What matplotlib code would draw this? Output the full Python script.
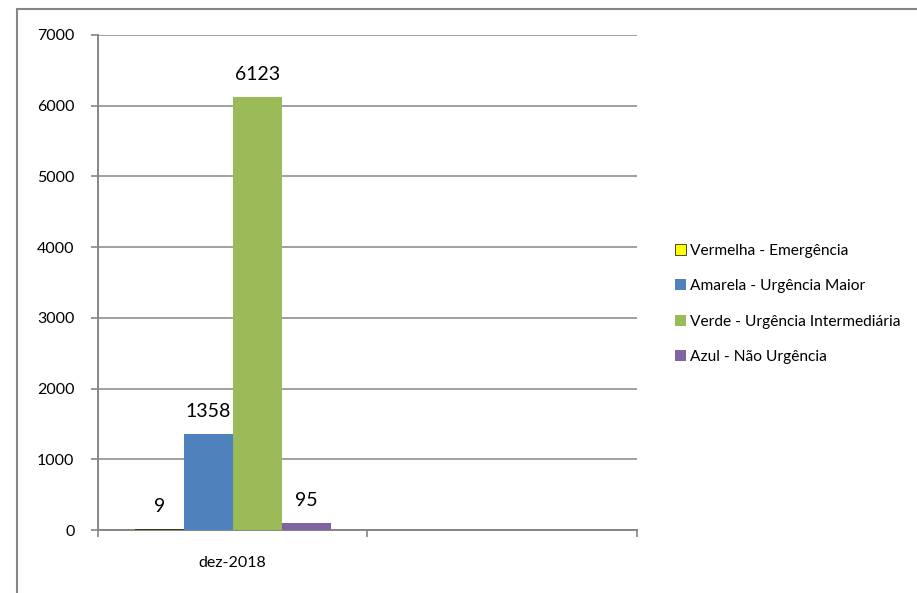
import matplotlib.pyplot as plt
from matplotlib.patches import Rectangle
import numpy as np

CATEGORIES = ["dez-2018", ""]
SERIES = [
    "Vermelha - Emergência",
    "Amarela - Urgência Maior",
    "Verde - Urgência Intermediária",
    "Azul - Não Urgência",
]
VALUES = [9, 1358, 6123, 95]
COLORS = ["#FFFF00", "#4F81BD", "#9BBB59", "#8064A2"]
EDGES = ["#000000", "none", "none", "none"]

plt.rcParams["font.family"] = ["Lato", "DejaVu Sans"]
GRID = "#868686"


def main():
    fig = plt.figure(figsize=(9.17, 5.93), dpi=100)
    W, H = 917, 593
    ax = fig.add_axes([98 / W, 1 - 530 / H, (637 - 98) / W, (530 - 35) / H])

    # outer chart frame
    fig.patches.append(Rectangle((17 / W, -0.1), 1.2, 1 + 0.1 - 9 / H,
                                 transform=fig.transFigure, fill=False,
                                 edgecolor=GRID, linewidth=1.5))

    width = 0.182
    offsets = (np.arange(len(SERIES)) - 1.5) * width
    for i, name in enumerate(SERIES):
        ax.bar(offsets[i], VALUES[i], width=width, color=COLORS[i],
               edgecolor=EDGES[i], linewidth=0.5 if EDGES[i] != "none" else 0,
               label=name, zorder=3)
        ax.annotate(str(VALUES[i]), (offsets[i], VALUES[i]),
                    xytext=(0, 16.5), textcoords="offset points",
                    ha="center", va="center", fontsize=14, color="#000000")

    ax.set_xlim(-0.5, 1.5)
    ax.set_ylim(0, 7000)
    ax.set_yticks(np.arange(0, 7001, 1000))
    ax.set_xticks([-0.5, 0.5, 1.5])
    ax.set_xticklabels([])
    ax.set_xticks([0], minor=True)
    ax.set_xticklabels([CATEGORIES[0]], minor=True)
    ax.tick_params(axis="x", which="minor", length=0, pad=19, labelsize=11.5)
    ax.tick_params(axis="x", which="major", length=5, color=GRID, width=1.2)
    ax.tick_params(axis="y", length=5, color=GRID, width=1.2, pad=12, labelsize=11.5)

    ax.grid(axis="y", color=GRID, linewidth=1.1, zorder=0)
    for s in ["top", "right"]:
        ax.spines[s].set_visible(False)
    for s in ["left", "bottom"]:
        ax.spines[s].set_color(GRID)
        ax.spines[s].set_linewidth(1.4)

    fig.legend(loc="center left", bbox_to_anchor=(675 / W, 1 - 304 / H),
               frameon=False, fontsize=11.2, handlelength=0.7, handleheight=0.7,
               handletextpad=0.25, labelspacing=1.38, borderpad=0,
               borderaxespad=0)

    fig.savefig("out.png", dpi=100)


if __name__ == "__main__":
    main()
